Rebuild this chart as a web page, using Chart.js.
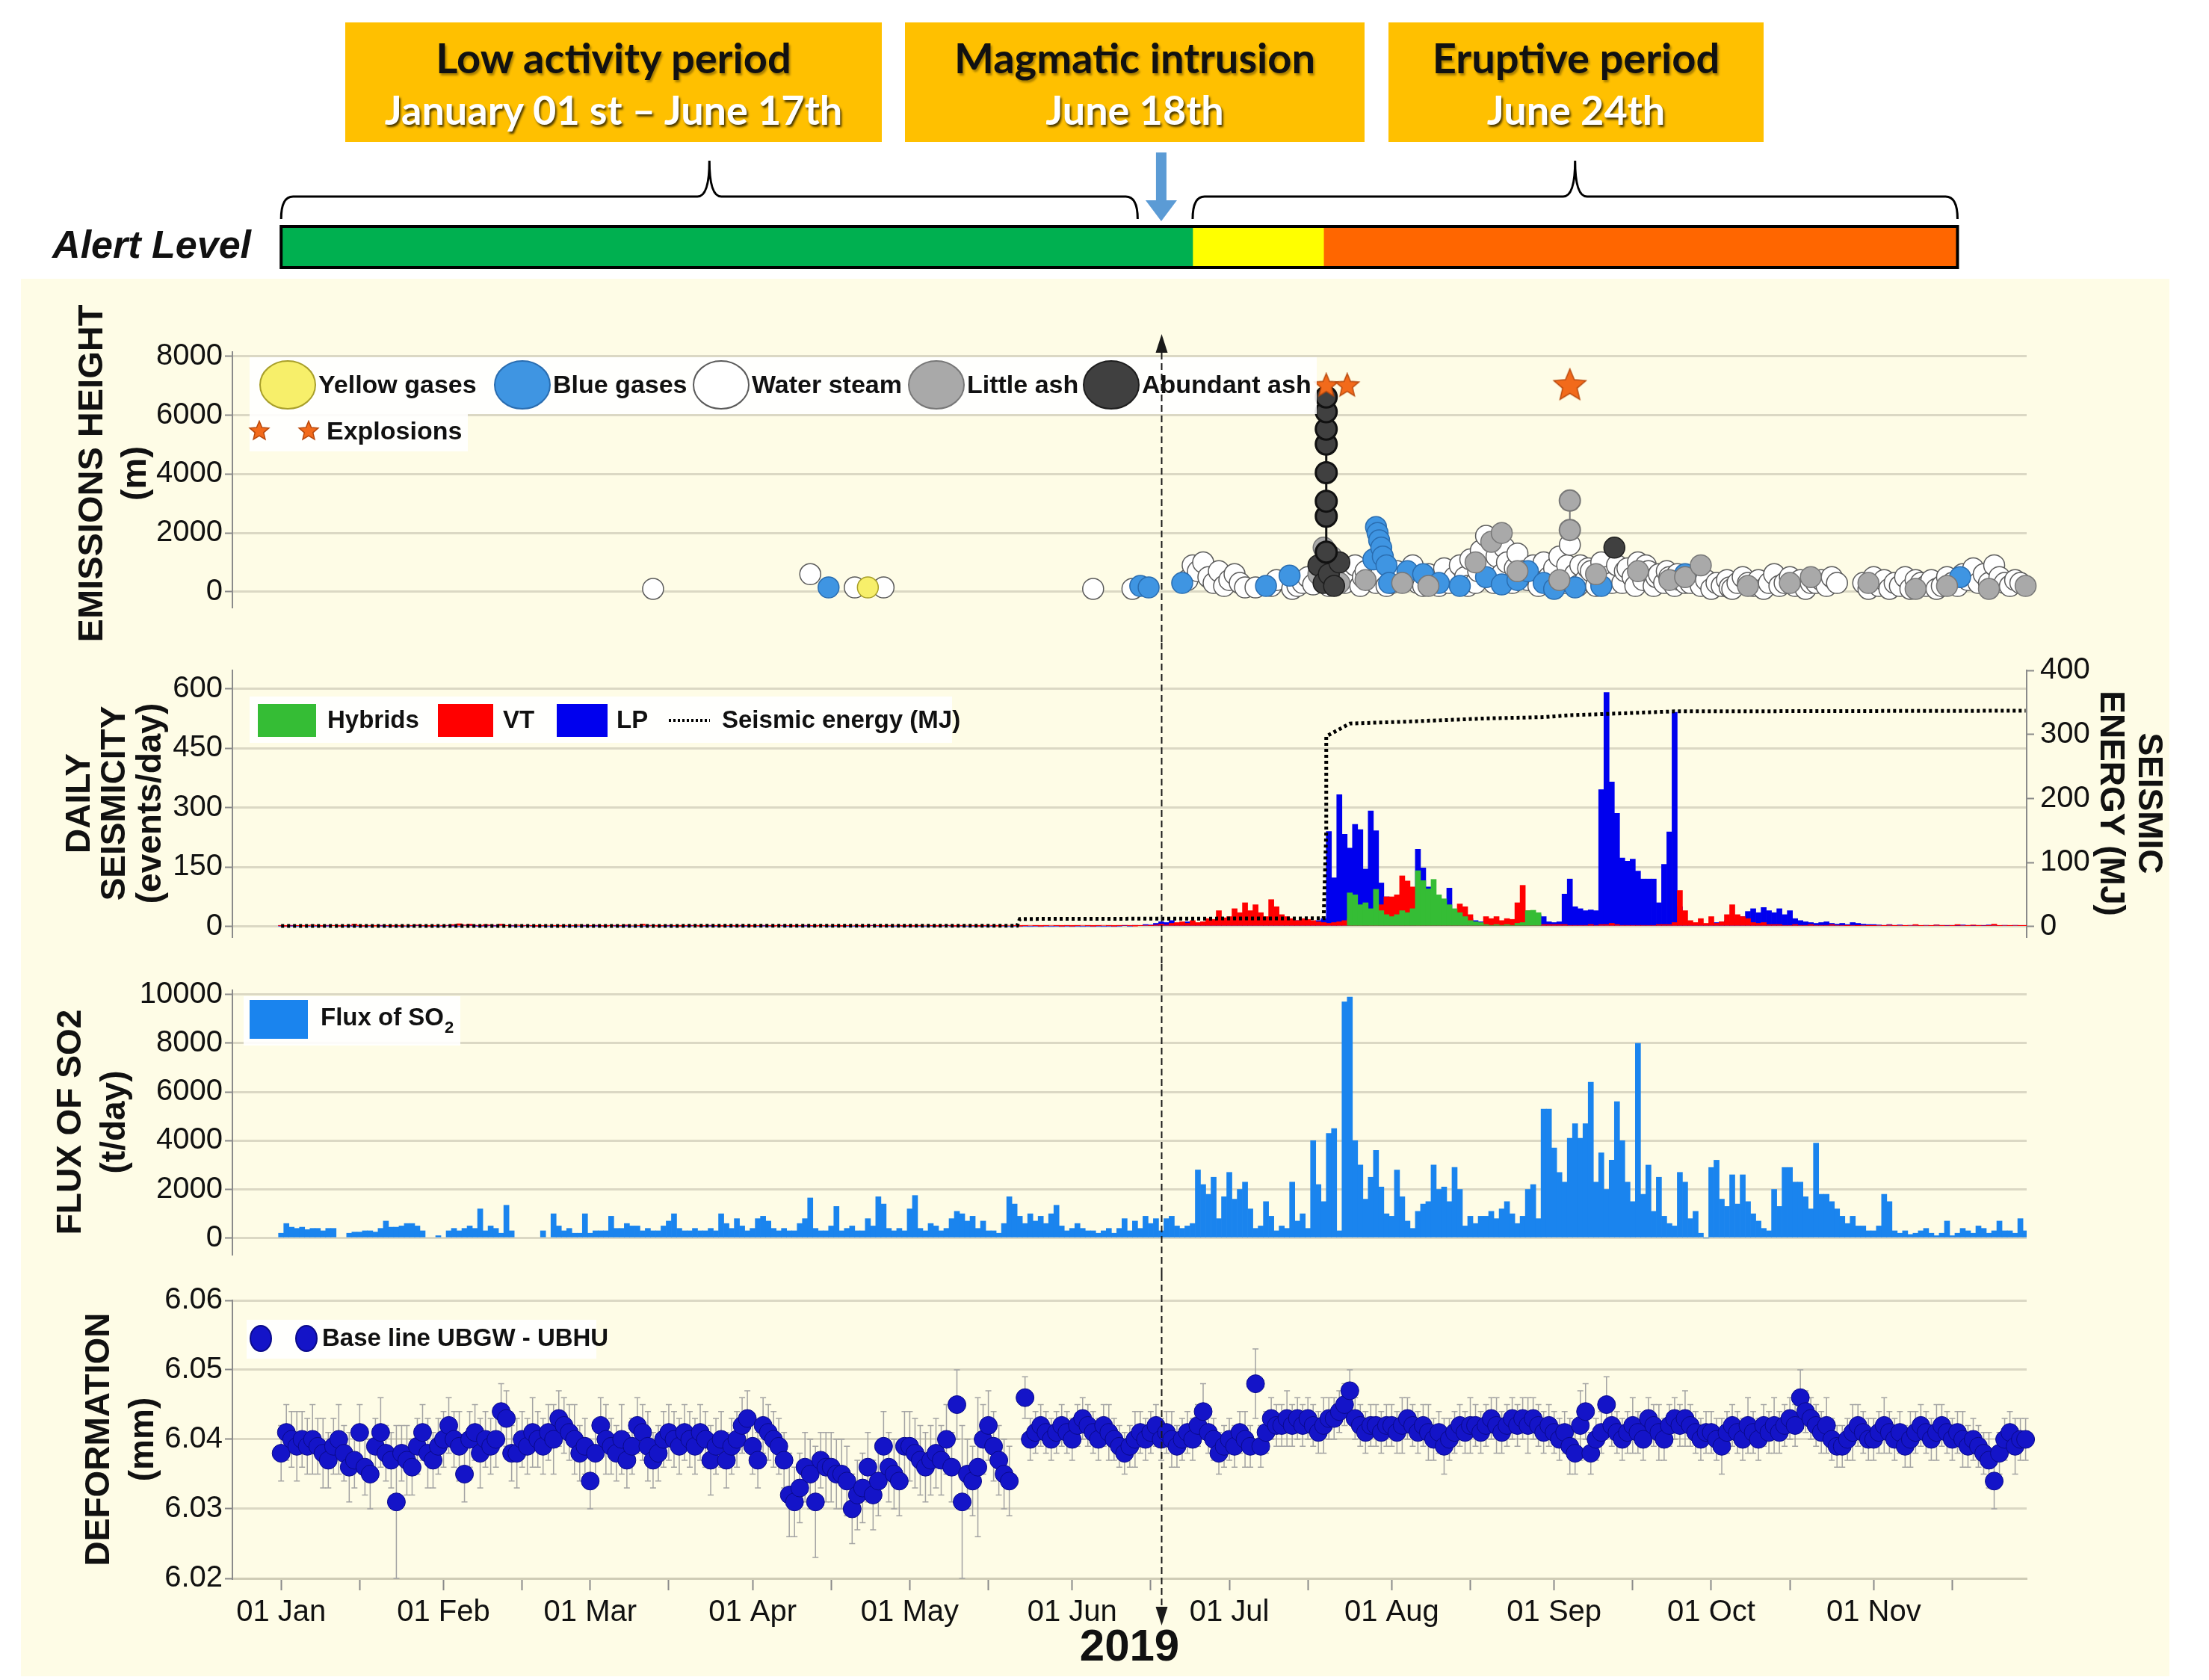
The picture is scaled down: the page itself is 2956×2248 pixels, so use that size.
<!DOCTYPE html>
<html>
<head>
<meta charset="utf-8">
<title>Volcanic monitoring 2019</title>
<script src="https://cdn.jsdelivr.net/npm/chart.js@4.4.1/dist/chart.umd.min.js"></script>
<style>
  body { margin: 0; width: 2956px; height: 2248px; background: #fff; position: relative; overflow: hidden; }
  .period { position: absolute; top: 30px; height: 160px; background: #ffc000; text-align: center;
            font-family: Lato, 'Liberation Sans', Arial, sans-serif; font-weight: 700; white-space: nowrap; }
  .period div { position: absolute; left: 0; right: 0; height: 70px; line-height: 70px; }
  .period .name { top: 12px; font-size: 56px; color: #111; text-shadow: 2px 3px 3px rgba(0,0,0,0.35); }
  .period .date { top: 82px; font-size: 54px; color: #fff; text-shadow: 2px 3px 3px rgba(0,0,0,0.7); }
  #panelBg { position: absolute; left: 28px; top: 373px; width: 2875px; height: 1870px; background: #fefce6; }
  .wrap { position: absolute; left: 0; width: 2956px; }
</style>
</head>
<body>
<div class="period" style="left:462px;width:718px"><div class="name">Low activity period</div><div class="date">January 01 st – June 17th</div></div>
<div class="period" style="left:1211px;width:615px"><div class="name">Magmatic intrusion</div><div class="date">June 18th</div></div>
<div class="period" style="left:1858px;width:502px"><div class="name">Eruptive period</div><div class="date">June 24th</div></div>
<div id="panelBg"></div>
<div class="wrap" style="top:190px;height:215px"><canvas id="alertChart"></canvas></div>
<div class="wrap" style="top:375px;height:485px"><canvas id="emissionChart"></canvas></div>
<div class="wrap" style="top:860px;height:430px"><canvas id="seismicChart"></canvas></div>
<div class="wrap" style="top:1290px;height:415px"><canvas id="so2Chart"></canvas></div>
<div class="wrap" style="top:1705px;height:538px"><canvas id="deformChart"></canvas></div>

<script>
// ---------- data (x = day of 2019, 0 = 01 Jan) ----------
const intrusionDay = 168;
const monthTicks = [0, 15, 31, 46, 59, 74, 90, 105, 120, 135, 151, 166, 181, 196, 212, 227, 243, 258, 273, 288, 304, 319];
const monthLabels = ['01 Jan', '', '01 Feb', '', '01 Mar', '', '01 Apr', '', '01 May', '', '01 Jun', '',
                     '01 Jul', '', '01 Aug', '', '01 Sep', '', '01 Oct', '', '01 Nov', ''];

const alertLevels = ['Green', 'Yellow', 'Orange'];
const alertStart = [0, 174, 199];
const alertEnd = [174, 199, 320];
const periodStart = [0, 174];
const periodEnd = [163.5, 320];

// emissions height (m)
const steamDays = [71, 101, 109.5, 115, 155, 162.5,
  173, 174, 175, 176, 177, 178, 179, 180, 181, 182, 183, 184,
  186, 189, 190, 193, 194, 195, 196, 197,
  199, 200, 201, 202, 203, 203.5, 204, 205, 206, 206.5, 207, 208, 209, 210, 211,
  212, 213, 214, 215, 216, 217, 218, 219, 220, 221, 222, 223, 224,
  225, 226, 226.5, 227, 228, 228.5, 229, 230, 231, 231.5, 232, 233, 233.5, 234, 235, 235.5, 236, 237, 238, 239, 240, 240.5, 241,
  242, 243, 243.5, 244, 245, 245.5, 246, 247, 247.5, 248, 249, 249.5, 250, 251, 251.5, 252, 253, 254, 255, 256, 256.5,
  257, 258, 258.5, 259, 260, 260.5, 261, 262, 262.5, 263, 264, 264.5, 265, 266, 266.5, 267, 268, 269, 270,
  271, 272, 273, 274, 275, 276, 276.5, 277, 278, 279, 280, 281, 282, 283, 284, 285, 286, 287, 288, 289, 290, 291, 292, 293, 294, 295, 296, 297,
  302, 303, 304, 305, 306, 307, 308, 309, 310, 311, 312, 313, 314, 315, 316, 317, 318, 319, 320, 321, 322, 323, 324, 325, 326, 327, 328, 329, 330, 331, 332];
const steamHeights = [100, 600, 150, 150, 100, 100,
  400, 900, 700, 1000, 500, 300, 700, 200, 400, 600, 300, 150,
  150, 200, 400, 100, 200, 300, 500, 250,
  300, 200, 800, 500, 300, 700, 600, 900, 200, 500, 700, 400, 300, 600, 200,
  300, 700, 500, 400, 900, 300, 200, 600, 400, 200, 800, 300, 500,
  900, 500, 200, 1100, 300, 700, 1400, 1900, 800, 300, 1200, 600, 1500, 1000, 300, 800, 1300, 700, 400, 900, 200, 600, 1000,
  500, 800, 300, 1200, 300, 900, 1600, 600, 200, 900, 400, 800, 700, 200, 500, 1000, 500, 300, 900, 300, 700,
  800, 500, 200, 1000, 400, 900, 700, 200, 500, 600, 300, 700, 500, 200, 600, 400, 300, 300, 500,
  200, 400, 100, 300, 200, 400, 150, 100, 300, 500, 300, 200, 400, 100, 300, 600, 200, 300, 500, 200, 400, 100, 300, 300, 400, 200, 500, 300,
  300, 100, 500, 200, 400, 100, 300, 200, 500, 100, 400, 300, 200, 400, 100, 200, 500, 300, 200, 600, 400, 800, 300, 600, 300, 900, 500, 300, 200, 400, 300];
const littleAshDays = [198, 199, 200.5, 202, 207, 214, 219, 228, 231, 233, 236, 244, 251, 259, 265, 268, 271, 280, 288, 292, 303, 312, 318, 326, 333];
const littleAshHeights = [600, 1500, 1200, 300, 400, 300, 200, 1000, 1700, 2000, 700, 400, 600, 700, 400, 500, 900, 200, 300, 500, 300, 100, 200, 100, 200];
const littleAshColumnDays = [246, 246];
const littleAshColumnHeights = [2100, 3100];
const blueDays = [104.5, 164, 165.6, 172, 188, 192.5, 208.5, 209, 209.3, 209.6, 210, 210.3, 211, 211.5, 215, 218, 221, 225, 230, 233, 236, 238, 241, 243, 247, 252, 268, 320.5];
const blueHeights = [150, 200, 150, 300, 200, 550, 1100, 2200, 2000, 1750, 1500, 1200, 900, 300, 700, 600, 300, 200, 500, 250, 400, 700, 300, 100, 150, 200, 600, 500];
const yellowDays = [112];
const yellowHeights = [150];
const ashDays = [198, 199, 200, 201, 202, 254.5];
const ashHeights = [900, 300, 600, 200, 1000, 1500];
const ashColumnDays = [199.5, 199.5, 199.5, 199.5, 199.5, 199.5, 199.5, 199.5];
const ashColumnHeights = [1350, 2570, 3080, 4050, 5020, 5530, 6120, 6620];
const explosionDays = [199.5, 203.5, 246];
const explosionHeights = [7000, 7000, 7000];

// daily seismicity (events/day), from 01 Jan
const vtEvents = [
  2, 1, 3, 2, 1, 2, 4, 2, 1, 3, 2, 1, 2, 3, 6, 2, 1, 2, 1, 3, 2, 1, 2, 1, 3, 2, 4, 2, 1, 2, 3,
  2, 3, 5, 7, 4, 6, 3, 2, 5, 4, 3, 6, 2, 3, 4, 2, 3, 2, 1, 2, 3, 2, 1, 2, 3, 2, 4, 3,
  2, 3, 2, 1, 2, 3, 2, 4, 3, 2, 6, 3, 2, 1, 2, 3, 2, 1, 2, 3, 2, 1, 2, 3, 2, 1, 2, 2, 1, 3, 2,
  1, 2, 3, 2, 1, 2, 3, 2, 1, 2, 3, 2, 1, 2, 2, 3, 2, 1, 2, 3, 2, 1, 2, 3, 2, 1, 2, 3, 2, 1,
  2, 1, 2, 3, 2, 1, 2, 3, 2, 1, 2, 3, 2, 1, 2, 3, 2, 1, 2, 3, 2, 1, 2, 3, 2, 1, 2, 3, 2, 1, 2,
  1, 2, 3, 2, 1, 2, 3, 2, 1, 2, 3, 2, 1, 2, 3, 2, 4, 6, 4, 8, 10, 12, 8, 15, 10, 12, 20, 18, 40, 22,
  25, 45, 35, 60, 40, 55, 35, 25, 68, 50, 30, 25, 20, 15, 20, 18, 15, 12, 10, 8, 10, 12, 15, 20, 25, 30, 35, 28, 40, 55, 75,
  75, 80, 128, 115, 100, 60, 50, 45, 40, 35, 30, 25, 40, 57, 50, 30, 10, 8, 25, 20, 25, 15, 20, 18, 60, 104, 40, 10, 5, 5, 5,
  5, 5, 5, 3, 3, 3, 3, 5, 3, 5, 5, 8, 5, 3, 3, 3, 3, 3, 3, 3, 5, 5, 5, 10, 91, 40, 15, 10, 20, 8,
  25, 8, 12, 30, 55, 30, 25, 20, 10, 8, 10, 5, 5, 5, 3, 3, 5, 3, 3, 5, 3, 3, 3, 5, 3, 3, 2, 3, 2, 3, 2,
  2, 3, 2, 4, 2, 3, 2, 3, 5, 2, 3, 2, 4, 2, 3, 2, 5, 3, 2, 4, 2, 3, 2, 6, 2, 3, 2, 3, 2, 2];
const lpEvents = [
  1, 0, 1, 0, 2, 1, 0, 1, 0, 1, 2, 1, 0, 1, 0, 1, 0, 1, 2, 1, 0, 1, 0, 1, 0, 1, 2, 1, 0, 1, 0,
  1, 2, 1, 0, 3, 2, 1, 0, 1, 2, 1, 4, 2, 1, 0, 1, 2, 1, 0, 1, 0, 1, 2, 1, 0, 1, 0, 1,
  0, 1, 0, 1, 2, 1, 0, 1, 0, 1, 0, 1, 2, 1, 0, 1, 0, 1, 0, 1, 2, 1, 0, 1, 0, 1, 0, 1, 0, 1, 0,
  1, 0, 1, 0, 1, 2, 1, 0, 1, 0, 1, 0, 1, 2, 1, 0, 1, 0, 1, 0, 1, 0, 1, 2, 1, 0, 1, 0, 1, 0,
  1, 0, 1, 0, 1, 0, 1, 2, 1, 0, 1, 0, 1, 0, 1, 0, 1, 2, 1, 0, 1, 0, 1, 0, 1, 0, 1, 0, 1, 0, 1,
  0, 1, 0, 1, 0, 1, 0, 1, 0, 1, 2, 1, 3, 2, 5, 4, 8, 12, 10, 15, 8, 10, 12, 10, 8, 12, 10, 15, 12, 10,
  12, 10, 15, 12, 10, 15, 12, 10, 12, 10, 12, 10, 12, 15, 12, 10, 12, 15, 20, 240, 123, 333, 233, 198, 258, 245, 145, 292, 242, 110, 75,
  70, 65, 60, 60, 65, 195, 148, 100, 70, 65, 60, 97, 40, 35, 25, 20, 15, 12, 10, 8, 10, 8, 10, 8, 10, 12, 15, 25, 30, 25, 12,
  10, 12, 82, 120, 50, 45, 40, 42, 40, 346, 591, 365, 286, 173, 165, 170, 140, 120, 120, 120, 60, 157, 239, 541, 50, 10, 5, 5, 3, 5,
  8, 10, 12, 15, 10, 20, 25, 38, 45, 35, 48, 40, 35, 45, 30, 40, 20, 15, 12, 10, 8, 10, 12, 8, 6, 8, 5, 10, 8, 6, 5,
  5, 4, 3, 5, 3, 4, 2, 3, 4, 2, 3, 2, 4, 3, 2, 3, 2, 4, 3, 2, 3, 2, 4, 3, 2, 3, 2, 3, 2, 2];
const hybridStart = 204;
const hybridEvents = [85, 80, 55, 60, 45, 94, 40, 30, 25, 30, 40, 35, 45, 141, 116, 95, 119, 80, 70, 55,
  45, 35, 25, 15, 12, 10, 5, 3, 5, 3, 5, 3, 8, 10, 40, 41, 35];
const energyDays = [0, 140.5, 141, 199, 199.5, 199.5, 204, 215, 230, 241, 246, 253, 266, 333];
const energyMJ = [1, 1.5, 12, 13, 150, 297, 317, 320, 325, 327, 330, 332, 336, 337];

// SO2 flux (t/day), from 01 Jan; null = no measurement
const so2Flux = [
  200, 600, 450, 400, 450, 350, 400, 400, 300, 400, 400, null, null,
  200, 250, 250, 300, 300, 250, 400, 700, 450, 450, 500, 600, 600, 500, 300,
  null, null, 100, null,
  300, 400, 300, 400, 500, 400, 1200, 300, 500, 400, 200, 1350, 300,
  null, null, null, null, null, 300, null,
  1000, 500, 300, 400, 200, 200, 1000, 200, 300, 300, 300, 900, 400, 400, 600, 500, 500, 300, 400, 300, 300, 500, 700, 1000,
  400, 300, 300, 400, 300, 300, 400, 300, 1000, 600, 400, 800, 500, 300, 400, 800, 900, 700, 400, 300, 400, 300, 300, 600,
  800, 1650, 400, 300, 300, 500, 1300, 300, 400, 500, 300, 300, 800, 500, 1700, 1400, 400, 300, 400, 300,
  1200, 1750, 400, 300, 600, 500, 300, 400, 800, 1100, 1000, 700, 900, 400, 700, 300, 300, 200, 600, 1700,
  1400, 900, 600, 1000, 700, 900, 600, 1000, 1350, 500, 300, 400, 600, 400, 300, 300, 200, 300, 400, 200,
  400, 800, 300, 700, 400, 900, 600, 800, 300, 800, 900, 500, 400, 500, 600,
  2800, 2200, 1800, 2500, 800, 1700, 2700, 1600, 2000, 2300, 1200, 400, 500, 1500, 900, 300, 500, 400, 2300, 700,
  1000, 400, 4000, 2200, 1500, 4300, 4500, 300, 9700, 9900, 4000, 3000, 1600, 2500, 3600, 2100, 1000, 900, 2800, 1700,
  700, 400, 1100, 1400, 1500, 3000, 2000, 2100, 1500, 2900, 2000, 500, 900, 600, 900, 900, 1100, 800, 1200, 1500,
  1000, 600, 900, 2000, 2200, 800, 5300, 5300, 3700, 2700, 2300, 4100, 4700, 4100, 4700, 6400, 2300, 3500, 2000, 3200,
  5600, 4000, 2300, 1500, 8000, 1800, 3000, 1100, 2500, 900, 600, 500, 2700, 2300, 800, 1100, 200,
  0, 2900, 3200, 1600, 1300, 2600, 1400, 2600, 1500, 1000, 700, 400, 300, 2000, 1300, 2900, 2900, 2300, 2300, 1700,
  1200, 3900, 1800, 1800, 1500, 1200, 900, 600, 900, 500, 500, 300, 300, 500, 1800, 1500, 300, 200, 300, 150,
  200, 300, 400, 200, 100, 200, 700, 100, 200, 400, 300, 200, 500, 400, 200, 300, 700, 300, 300, 200, 800, 300];

// base line UBGW - UBHU (mm), from 01 Jan; null = no data
const deformation = [
  6.038, 6.041, 6.040, 6.039, 6.040, 6.039, 6.040, 6.039, 6.038, 6.037, 6.039, 6.040, 6.038, 6.036, 6.037, 6.041,
  6.036, 6.035, 6.039, 6.041, 6.038, 6.037, 6.031, 6.038, 6.037, 6.036, 6.039, 6.041, 6.038, 6.037, 6.039,
  6.040, 6.042, 6.040, 6.039, 6.035, 6.040, 6.041, 6.038, 6.040, 6.039, 6.040, 6.044, 6.043, 6.038,
  6.038, 6.040, 6.039, 6.041, 6.040, 6.039, 6.041, 6.040, 6.043, 6.042, 6.041, 6.040, 6.038, 6.039,
  6.034, 6.038, 6.042, 6.040, 6.039, 6.038, 6.040, 6.037, 6.039, 6.042, 6.041, 6.039, 6.037, 6.038, 6.040, 6.041,
  6.040, 6.039, 6.041, 6.040, 6.039, 6.041, 6.040, 6.037, 6.039, 6.040, 6.037, 6.039, 6.040, 6.042, 6.043,
  6.039, 6.037, 6.042, 6.041, 6.040, 6.039, 6.037, 6.032, 6.031, 6.033, 6.036, 6.035, 6.031, 6.037, 6.036,
  6.036, 6.035, 6.035, 6.034, 6.030, 6.032, 6.033, 6.036, 6.032, 6.034, 6.039, 6.036, 6.035, 6.034, 6.039,
  6.039, 6.038, 6.037, 6.036, 6.037, 6.038, 6.037, 6.040, 6.036, 6.045, 6.031, 6.035, 6.034, 6.036, 6.040, 6.042,
  6.039, 6.037, 6.035, 6.034, null, null, 6.046, 6.040, 6.041, 6.042, 6.041, 6.040, 6.041, 6.042, 6.041,
  6.040, 6.042, 6.043, 6.042, 6.041, 6.040, 6.042, 6.041, 6.040, 6.039, 6.038, 6.039, 6.040, 6.041, 6.040,
  6.041, 6.042, 6.040, 6.041, 6.040, 6.039, 6.040, 6.041, 6.040, 6.042, 6.044, 6.041, 6.040, 6.038, 6.039,
  6.040, 6.039, 6.041, 6.040, 6.039, 6.048, 6.039, 6.041, 6.043, 6.042, 6.042, 6.043, 6.042, 6.043, 6.042, 6.043,
  6.042, 6.041, 6.042, 6.043, 6.043, 6.044, 6.045, 6.047, 6.043, 6.042, 6.041, 6.042, 6.042, 6.041, 6.042,
  6.042, 6.041, 6.042, 6.043, 6.042, 6.041, 6.042, 6.041, 6.040, 6.041, 6.039, 6.040, 6.041, 6.042, 6.041, 6.042,
  6.042, 6.041, 6.042, 6.043, 6.042, 6.041, 6.042, 6.043, 6.042, 6.043, 6.042, 6.043, 6.042, 6.041, 6.042,
  6.041, 6.040, 6.041, 6.039, 6.038, 6.042, 6.044, 6.038, 6.040, 6.041, 6.045, 6.042, 6.041, 6.040, 6.041,
  6.042, 6.041, 6.040, 6.043, 6.042, 6.041, 6.040, 6.042, 6.043, 6.042, 6.043, 6.042, 6.041, 6.040, 6.041,
  6.041, 6.040, 6.039, 6.041, 6.042, 6.041, 6.040, 6.042, 6.041, 6.040, 6.042, 6.041, 6.042, 6.041, 6.042, 6.043,
  6.042, 6.046, 6.044, 6.043, 6.042, 6.041, 6.042, 6.040, 6.039, 6.039, 6.040, 6.041, 6.042, 6.041, 6.040,
  6.040, 6.041, 6.042, 6.041, 6.040, 6.041, 6.039, 6.040, 6.041, 6.042, 6.041, 6.040, 6.041, 6.042, 6.041,
  6.040, 6.041, 6.040, 6.039, 6.040, 6.039, 6.038, 6.037, 6.034, 6.038, 6.040, 6.041, 6.039, 6.040, 6.040];
// error bar half-length, in thousandths of mm
const deformError = [
  4, 4, 4, 5, 4, 4, 5, 4, 5, 4, 4, 5, 4, 5, 4, 4, 4, 5, 4, 5, 4, 4, 11, 4, 5, 4, 4, 4, 5, 4, 4,
  4, 4, 4, 5, 4, 4, 4, 5, 4, 4, 4, 4, 4, 4, 5, 4, 4, 5, 4, 4, 4, 5, 4, 4, 4, 5, 4, 4,
  4, 4, 4, 5, 4, 4, 5, 4, 4, 4, 4, 5, 4, 4, 4, 4, 4, 4, 4, 4, 4, 4, 4, 5, 4, 4, 4, 4, 4, 4, 4,
  4, 4, 4, 4, 4, 4, 4, 6, 5, 5, 5, 5, 8, 4, 5, 5, 5, 5, 5, 5, 5, 5, 5, 5, 5, 5, 5, 5, 5, 5,
  5, 5, 5, 5, 5, 5, 5, 5, 5, 5, 11, 5, 5, 10, 5, 5, 5, 5, 5, 5, 0, 0, 3, 3, 3, 3, 3, 3, 3, 3, 3,
  3, 3, 3, 3, 3, 3, 3, 4, 3, 3, 3, 3, 4, 3, 3, 3, 3, 3, 3, 4, 3, 3, 3, 3, 3, 4, 3, 3, 3, 3,
  3, 3, 3, 4, 3, 5, 3, 3, 3, 3, 3, 4, 3, 3, 3, 3, 3, 3, 4, 3, 3, 3, 3, 3, 3, 3, 3, 3, 3, 3, 3,
  3, 3, 4, 3, 3, 3, 3, 4, 3, 3, 4, 3, 3, 3, 3, 4, 3, 3, 3, 3, 4, 3, 3, 3, 3, 3, 4, 3, 3, 3, 3,
  3, 3, 3, 4, 3, 5, 4, 3, 3, 3, 4, 3, 3, 3, 3, 4, 3, 3, 3, 3, 4, 3, 3, 3, 3, 4, 3, 3, 3, 3,
  3, 3, 4, 3, 3, 3, 3, 4, 3, 3, 3, 3, 4, 3, 3, 3, 3, 4, 3, 3, 3, 3, 4, 3, 3, 3, 3, 4, 3, 3, 3,
  3, 3, 4, 3, 3, 3, 3, 4, 3, 3, 3, 3, 4, 3, 3, 3, 3, 4, 3, 3, 3, 3, 4, 4, 3, 3, 3, 4, 3, 3];

// axis ticks
const emisTicks = [0, 1000, 2000, 3000, 4000, 5000, 6000, 7000, 8000];
const emisMajor = [0, 2000, 4000, 6000, 8000];
const seisTicks = [0, 75, 150, 225, 300, 375, 450, 525, 600];
const seisMajor = [0, 150, 300, 450, 600];
const energyTicks = [0, 50, 100, 150, 200, 250, 300, 350, 400];
const energyMajor = [0, 100, 200, 300, 400];
const so2Ticks = [0, 1000, 2000, 3000, 4000, 5000, 6000, 7000, 8000, 9000, 10000];
const so2Major = [0, 2000, 4000, 6000, 8000, 10000];
const deformTicks = [6.02, 6.03, 6.04, 6.05, 6.06];

// ---------- styles ----------
const FONT = "'Liberation Sans', Arial, Helvetica, sans-serif";
Chart.defaults.font.family = FONT;
Chart.defaults.color = '#111';
Chart.defaults.animation = false;
Chart.defaults.plugins.legend.display = false;
Chart.defaults.plugins.tooltip.enabled = false;

const DAY_MIN = -9.3, DAY_MAX = 333.2;
const AXIS_W = 311, RIGHT_PAD = 244, PLOT_RIGHT = 2712;
const ALERT_AXIS_W = 342;
const ALERT_DAY_MIN = DAY_MIN + (ALERT_AXIS_W - AXIS_W) * (DAY_MAX - DAY_MIN) / (PLOT_RIGHT - AXIS_W);
const GRID = '#dbd8c4', AXIS = '#8a8a8a';
const C = {
  yellow: ['#f7ef6a', '#a89f2a'], blue: ['#3f95e2', '#2a6db0'], white: ['#ffffff', '#5a5a5a'],
  gray: ['#a9a9a9', '#777777'], dark: ['#404040', '#1e1e1e'],
  hybrid: '#35bd35', vt: '#ff0000', lp: '#0000ee', so2: '#1a84ee', def: '#1414c8', defEdge: '#0a0a8a'
};

function makeStar(size) {
  const c = document.createElement('canvas');
  c.width = c.height = size;
  const g = c.getContext('2d'), r = size / 2 - 1.5, ri = r * 0.45;
  g.beginPath();
  for (let k = 0; k < 10; k++) {
    const a = -Math.PI / 2 + k * Math.PI / 5, rr = k % 2 ? ri : r;
    g.lineTo(size / 2 + rr * Math.cos(a), size / 2 + rr * Math.sin(a));
  }
  g.closePath();
  g.fillStyle = '#f26a1b'; g.fill();
  g.strokeStyle = '#b8480c'; g.lineWidth = 1.5; g.stroke();
  return c;
}
const starSmall = makeStar(36), starBig = makeStar(48), starLegend = makeStar(30);

function pts(days, vals) { return days.map((d, i) => ({ x: d, y: vals[i] })); }
function daily(vals, start) { return vals.map((v, i) => ({ x: start + i, y: v })); }

function yAxis(cfg) {
  return {
    type: 'linear', position: cfg.position || 'left', min: cfg.min, max: cfg.max,
    afterBuildTicks: a => { a.ticks = cfg.ticks.map(v => ({ value: v })); },
    afterFit: s => { s.width = cfg.width || AXIS_W; },
    border: { color: AXIS, width: 2 },
    grid: {
      drawOnChartArea: cfg.grid !== false,
      color: c => (c.tick && cfg.major.includes(c.tick.value)) ? GRID : 'rgba(0,0,0,0)',
      lineWidth: 3, tickColor: AXIS, tickWidth: 2, tickLength: 10
    },
    ticks: { font: { size: 40 }, color: '#111', padding: cfg.pad || 3,
             callback: v => cfg.major.includes(v) ? cfg.fmt(v) : '' },
    title: cfg.title
      ? { display: true, text: cfg.title, color: '#111', font: { size: 46, weight: 'bold', lineHeight: cfg.lh },
          padding: { top: cfg.tpad, bottom: 0 } }
      : { display: false }
  };
}
function xHidden() { return { type: 'linear', min: DAY_MIN, max: DAY_MAX, display: false, offset: false }; }

// legend helpers
function label(ctx, text, x, y, size) {
  ctx.font = `bold ${size}px ${FONT}`;
  ctx.fillStyle = '#111'; ctx.textAlign = 'left'; ctx.textBaseline = 'middle';
  ctx.fillText(text, x, y);
}
function ellipse(ctx, x, y, rx, ry, fill, stroke) {
  ctx.beginPath(); ctx.ellipse(x, y, rx, ry, 0, 0, Math.PI * 2);
  ctx.fillStyle = fill; ctx.fill();
  ctx.lineWidth = 2; ctx.strokeStyle = stroke; ctx.stroke();
}
function whiteBox(ctx, x, y, w, h) { ctx.fillStyle = 'rgba(255,255,255,0.9)'; ctx.fillRect(x, y, w, h); }

// dashed 18 June marker through the panels
function intrusionLine(yStart, yEnd, tipUp, tipDown) {
  return {
    id: 'intrusionLine',
    afterDatasetsDraw(chart) {
      const ctx = chart.ctx, x = Math.round(chart.scales.x.getPixelForValue(intrusionDay)) + 0.5;
      ctx.save();
      ctx.strokeStyle = '#1a1a1a'; ctx.lineWidth = 2; ctx.setLineDash([9, 5]);
      ctx.beginPath(); ctx.moveTo(x, yStart); ctx.lineTo(x, Math.min(yEnd, chart.height)); ctx.stroke();
      ctx.setLineDash([]); ctx.fillStyle = '#1a1a1a';
      if (tipUp != null) {
        ctx.beginPath(); ctx.moveTo(x, tipUp); ctx.lineTo(x - 8, tipUp + 25); ctx.lineTo(x + 8, tipUp + 25); ctx.closePath(); ctx.fill();
      }
      if (tipDown != null) {
        ctx.beginPath(); ctx.moveTo(x, tipDown); ctx.lineTo(x - 8, tipDown - 25); ctx.lineTo(x + 8, tipDown - 25); ctx.closePath(); ctx.fill();
      }
      ctx.restore();
    }
  };
}

// ---------- alert level bar ----------
function drawBrace(ctx, xa, xb, yPeak, yLine, yEnd) {
  const xm = (xa + xb) / 2, r = 16;
  ctx.beginPath();
  ctx.moveTo(xa, yEnd);
  ctx.quadraticCurveTo(xa, yLine, xa + r, yLine);
  ctx.lineTo(xm - r, yLine);
  ctx.quadraticCurveTo(xm, yLine, xm, yPeak);
  ctx.quadraticCurveTo(xm, yLine, xm + r, yLine);
  ctx.lineTo(xb - r, yLine);
  ctx.quadraticCurveTo(xb, yLine, xb, yEnd);
  ctx.stroke();
}
const alertDecor = {
  id: 'alertDecor',
  afterDraw(chart) {
    const { ctx, chartArea: a, scales: { x } } = chart;
    ctx.save();
    const x0 = x.getPixelForValue(alertStart[0]), x1 = x.getPixelForValue(alertEnd[alertEnd.length - 1]);
    ctx.strokeStyle = '#000'; ctx.lineWidth = 4;
    ctx.strokeRect(x0, a.top, x1 - x0, a.bottom - a.top);
    ctx.lineWidth = 3;
    periodStart.forEach((s, i) => drawBrace(ctx, x.getPixelForValue(s), x.getPixelForValue(periodEnd[i]), 25, 73, 103));
    const xa = x.getPixelForValue(intrusionDay);
    ctx.fillStyle = '#5b9bd5';
    ctx.fillRect(xa - 7, 14, 14, 66);
    ctx.beginPath(); ctx.moveTo(xa - 21, 78); ctx.lineTo(xa + 21, 78); ctx.lineTo(xa, 106); ctx.closePath(); ctx.fill();
    ctx.restore();
  }
};
const alertColors = ['#00b050', '#ffff00', '#ff6600'];
new Chart(document.getElementById('alertChart'), {
  type: 'bar',
  data: {
    labels: ['Alert Level'],
    datasets: alertLevels.map((name, i) => ({
      label: name, data: [[alertStart[i], alertEnd[i]]], backgroundColor: alertColors[i],
      borderWidth: 0, grouped: false, barPercentage: 1, categoryPercentage: 1
    }))
  },
  options: {
    indexAxis: 'y', responsive: true, maintainAspectRatio: false,
    layout: { padding: { left: 0, right: RIGHT_PAD, top: 113, bottom: 47 } },
    scales: {
      x: { type: 'linear', min: ALERT_DAY_MIN, max: DAY_MAX, display: false },
      y: {
        afterFit: s => { s.width = ALERT_AXIS_W; },
        grid: { display: false, drawTicks: false }, border: { display: false },
        ticks: { padding: 6, color: '#111', font: { size: 52, weight: 'bold', style: 'italic' } }
      }
    }
  },
  plugins: [alertDecor]
});

// ---------- emissions height ----------
function bubbles(label, days, heights, style) {
  return { label, data: pts(days, heights), backgroundColor: style[0], borderColor: style[1],
           borderWidth: 1.5, pointRadius: 14, clip: false };
}
const emissionExtras = {
  id: 'emissionExtras',
  afterDatasetsDraw(chart) {
    const ctx = chart.ctx, T = 375;
    ctx.save();
    whiteBox(ctx, 334, 478 - T, 1428, 76);
    whiteBox(ctx, 334, 554 - T, 292, 50);
    [[385, 'Yellow gases', C.yellow], [699, 'Blue gases', C.blue], [965, 'Water steam', C.white],
     [1253, 'Little ash', C.gray], [1487, 'Abundant ash', C.dark]].forEach(([x, t, s]) => {
      ellipse(ctx, x, 515 - T, 37, 32, s[0], s[1]);
      label(ctx, t, x + 41, 517 - T, 34);
    });
    ctx.drawImage(starLegend, 347 - 15, 577 - T - 15);
    ctx.drawImage(starLegend, 413 - 15, 577 - T - 15);
    label(ctx, 'Explosions', 437, 579 - T, 34);
    ctx.restore();
  },
  afterDraw(chart) {
    const ctx = chart.ctx, yc = (chart.chartArea.top + chart.chartArea.bottom) / 2 - 8;
    ctx.save();
    ctx.fillStyle = '#111'; ctx.textAlign = 'center'; ctx.textBaseline = 'middle';
    ctx.font = `bold 47px ${FONT}`;
    ctx.translate(124, yc); ctx.rotate(-Math.PI / 2);
    ctx.fillText('EMISSIONS HEIGHT', 0, 0);
    ctx.fillText('(m)', 0, 58);
    ctx.restore();
  }
};
new Chart(document.getElementById('emissionChart'), {
  type: 'scatter',
  data: {
    datasets: [
      { label: 'Explosions', data: pts(explosionDays, explosionHeights), pointStyle: [starSmall, starSmall, starBig], pointRadius: 10, clip: false },
      Object.assign(bubbles('Abundant ash column', ashColumnDays, ashColumnHeights, C.dark), { showLine: true, borderColor: '#111', borderWidth: 3 }),
      Object.assign(bubbles('Little ash column', littleAshColumnDays, littleAshColumnHeights, C.gray), { showLine: true, borderColor: '#777', borderWidth: 2 }),
      bubbles('Abundant ash', ashDays, ashHeights, C.dark),
      bubbles('Little ash', littleAshDays, littleAshHeights, C.gray),
      bubbles('Blue gases', blueDays, blueHeights, C.blue),
      bubbles('Yellow gases', yellowDays, yellowHeights, C.yellow),
      bubbles('Water steam', steamDays, steamHeights, C.white)
    ]
  },
  options: {
    responsive: true, maintainAspectRatio: false,
    layout: { padding: { left: 0, right: RIGHT_PAD, top: 96, bottom: 48 } },
    scales: {
      x: xHidden(),
      y: yAxis({ min: -510, max: 8150, ticks: emisTicks, major: emisMajor, fmt: v => String(v) })
    }
  },
  plugins: [emissionExtras, intrusionLine(97, 9999, 72, null)]
});

// ---------- daily seismicity ----------
const seismicLegend = {
  id: 'seismicLegend',
  afterDatasetsDraw(chart) {
    const ctx = chart.ctx, T = 860, y = 964 - T;
    ctx.save();
    whiteBox(ctx, 334, 932 - T, 940, 62);
    [[345, 78, C.hybrid, 'Hybrids', 438], [586, 74, C.vt, 'VT', 673], [745, 68, C.lp, 'LP', 825]].forEach(([x, w, c, t, tx]) => {
      ctx.fillStyle = c; ctx.fillRect(x, y - 22, w, 44);
      label(ctx, t, tx, y + 1, 33);
    });
    ctx.strokeStyle = '#000'; ctx.lineWidth = 4; ctx.setLineDash([3, 3]);
    ctx.beginPath(); ctx.moveTo(895, y); ctx.lineTo(950, y); ctx.stroke();
    ctx.setLineDash([]);
    label(ctx, 'Seismic energy (MJ)', 966, y + 1, 33);
    ctx.restore();
  }
};
new Chart(document.getElementById('seismicChart'), {
  type: 'bar',
  data: {
    datasets: [
      { type: 'line', label: 'Seismic energy (MJ)', data: pts(energyDays, energyMJ), yAxisID: 'y2',
        borderColor: '#000', borderWidth: 5, borderDash: [4, 4], pointRadius: 0, tension: 0, order: 0 },
      { label: 'Hybrids', data: daily(hybridEvents, hybridStart), backgroundColor: C.hybrid, order: 1 },
      { label: 'VT', data: daily(vtEvents, 0), backgroundColor: C.vt, order: 2 },
      { label: 'LP', data: daily(lpEvents, 0), backgroundColor: C.lp, order: 3 }
    ]
  },
  options: {
    responsive: true, maintainAspectRatio: false,
    datasets: { bar: { grouped: false, barPercentage: 1, categoryPercentage: 1, borderWidth: 0 } },
    layout: { padding: { left: 0, right: 44, top: 37, bottom: 37 } },
    scales: {
      x: xHidden(),
      y: yAxis({ min: -25, max: 647, ticks: seisTicks, major: seisMajor, fmt: v => String(v),
                 title: ['DAILY', 'SEISMICITY', '(events/day)'], lh: 1.04, tpad: 83 }),
      y2: yAxis({ position: 'right', width: 200, grid: false, pad: 8, min: -15.2, max: 400, ticks: energyTicks,
                  major: energyMajor, fmt: v => String(v), title: ['SEISMIC', 'ENERGY (MJ)'], lh: 1.1, tpad: 12 })
    }
  },
  plugins: [seismicLegend, intrusionLine(0, 9999, null, null)]
});

// ---------- SO2 flux ----------
const so2Legend = {
  id: 'so2Legend',
  afterDatasetsDraw(chart) {
    const ctx = chart.ctx, T = 1290;
    ctx.save();
    whiteBox(ctx, 326, 1333 - T, 290, 66);
    ctx.fillStyle = C.so2; ctx.fillRect(334, 1338 - T, 78, 52);
    label(ctx, 'Flux of SO', 429, 1363 - T, 33);
    const w = ctx.measureText('Flux of SO').width;
    label(ctx, '2', 429 + w + 1, 1376 - T, 22);
    ctx.restore();
  }
};
new Chart(document.getElementById('so2Chart'), {
  type: 'bar',
  data: { datasets: [{ label: 'Flux of SO2', data: daily(so2Flux, 0), backgroundColor: C.so2,
                       borderWidth: 0, barPercentage: 1, categoryPercentage: 1 }] },
  options: {
    responsive: true, maintainAspectRatio: false,
    layout: { padding: { left: 0, right: RIGHT_PAD, top: 35, bottom: 15 } },
    scales: {
      x: xHidden(),
      y: yAxis({ min: -653, max: 10178, ticks: so2Ticks, major: so2Major, fmt: v => String(v),
                 title: ['FLUX OF SO2', '(t/day)'], lh: 1.3, tpad: 65 })
    }
  },
  plugins: [so2Legend, intrusionLine(0, 9999, null, null)]
});

// ---------- deformation ----------
const deformExtras = {
  id: 'deformExtras',
  beforeDatasetsDraw(chart) {
    const { ctx, scales: { x, y } } = chart;
    ctx.save();
    ctx.strokeStyle = '#a3a3a3'; ctx.lineWidth = 1.5;
    deformation.forEach((v, i) => {
      if (v == null) return;
      const e = deformError[i] / 1000, px = x.getPixelForValue(i);
      const y0 = y.getPixelForValue(v - e), y1 = y.getPixelForValue(v + e);
      ctx.beginPath();
      ctx.moveTo(px, y0); ctx.lineTo(px, y1);
      ctx.moveTo(px - 4, y0); ctx.lineTo(px + 4, y0);
      ctx.moveTo(px - 4, y1); ctx.lineTo(px + 4, y1);
      ctx.stroke();
    });
    ctx.restore();
  },
  afterDatasetsDraw(chart) {
    const ctx = chart.ctx, T = 1705;
    ctx.save();
    whiteBox(ctx, 330, 1766 - T, 468, 52);
    ellipse(ctx, 349, 1791 - T, 14, 17, C.def, C.defEdge);
    ellipse(ctx, 410, 1791 - T, 14, 17, C.def, C.defEdge);
    label(ctx, 'Base line UBGW - UBHU', 431, 1792 - T, 33);
    ctx.restore();
  }
};
new Chart(document.getElementById('deformChart'), {
  type: 'scatter',
  data: {
    datasets: [{
      label: 'Base line UBGW - UBHU',
      data: deformation.map((v, i) => ({ x: i, y: v })).filter(p => p.y != null),
      backgroundColor: C.def, borderColor: C.defEdge, borderWidth: 1, pointRadius: 12, clip: false
    }]
  },
  options: {
    responsive: true, maintainAspectRatio: false,
    layout: { padding: { left: 0, right: RIGHT_PAD, top: 35, bottom: 0 } },
    scales: {
      x: {
        type: 'linear', min: DAY_MIN, max: DAY_MAX, offset: false,
        afterBuildTicks: a => { a.ticks = monthTicks.map(v => ({ value: v })); },
        afterFit: s => { s.height = 131; },
        border: { color: '#cfccb6', width: 3 },
        grid: { drawOnChartArea: false, tickLength: 16, tickColor: AXIS, tickWidth: 2 },
        ticks: { font: { size: 40 }, color: '#111', padding: 6, autoSkip: false, maxRotation: 0,
                 callback: (v, i) => monthLabels[i] },
        title: { display: true, text: '2019', color: '#111', font: { size: 60, weight: 'bold' }, padding: { top: 0, bottom: 2 } }
      },
      y: yAxis({ min: 6.02, max: 6.06, ticks: deformTicks, major: deformTicks, fmt: v => v.toFixed(2),
                 title: ['DEFORMATION', '(mm)'], lh: 1.3, tpad: 103 })
    }
  },
  plugins: [deformExtras, intrusionLine(0, 447, null, 470)]
});
</script>
</body>
</html>
